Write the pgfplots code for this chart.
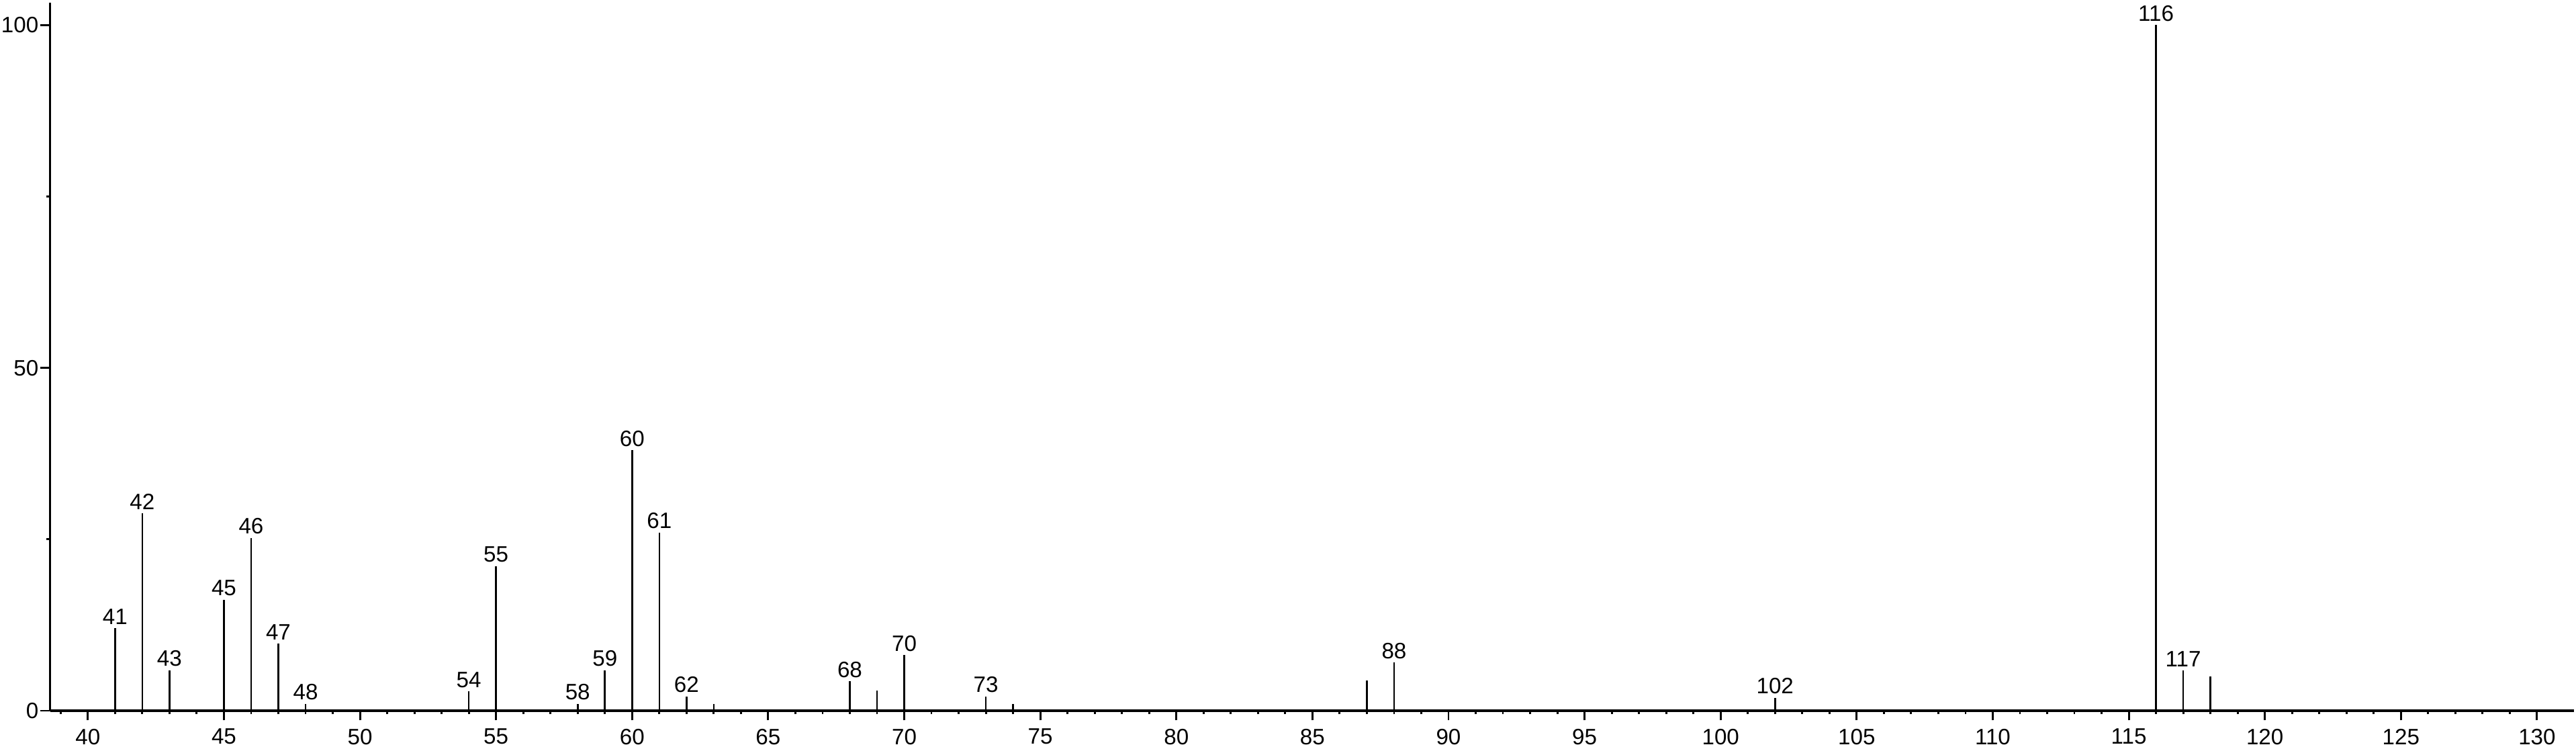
\documentclass[border=0pt]{standalone}
\usepackage{fontspec}
\setmainfont{Liberation Sans}
\usepackage{pgfplots}
\pgfplotsset{compat=1.18}
\begin{document}
\begin{tikzpicture}
\begin{axis}[
  scale only axis, width=940.75pt, height=263.9pt,
  xmin=38.61, xmax=131.36, ymin=0, ymax=103.3,
  axis x line=bottom, axis y line=left,
  axis line style={-},
  x axis line style={line width=1pt},
  y axis line style={line width=0.75pt},
  xtick distance=5, minor x tick num=4,
  ytick={0,50,100}, minor ytick={25,75},
  tick align=outside, major tick length=3.6pt, minor tick length=1.3pt,
  every tick/.style={black, line width=0.72pt},
  tick label style={font=\fontsize{8.3}{9}\selectfont},
  /pgf/number format/assume math mode=true,
  yticklabel style={inner sep=0.5pt},
  xticklabel style={inner sep=0.8pt, yshift=-2.2pt},
  clip=false,
]
\addplot[ycomb, black, line width=0.65pt, mark=none] table {
x y
41 12.0
42 28.8
43 5.9
45 16.2
46 25.2
47 9.8
48 1.0
54 2.8
55 21.1
58 1.0
59 5.9
60 38.0
61 26.0
62 2.1
63 1.0
68 4.3
69 2.9
70 8.1
73 2.1
74 1.0
87 4.4
88 7.0
102 1.9
116 100
117 5.9
118 5.0
};
\addplot[draw=none, mark=none, nodes near coords, point meta=explicit symbolic,
  nodes near coords style={font=\fontsize{8.3}{9}\selectfont, anchor=south, inner sep=1.2pt}]
  table[meta=label] {
x y label
41 12.0 41
42 28.8 42
43 5.9 43
45 16.2 45
46 25.2 46
47 9.8 47
48 1.0 48
54 2.8 54
55 21.1 55
58 1.0 58
59 5.9 59
60 38.0 60
61 26.0 61
62 2.1 62
68 4.3 68
70 8.1 70
73 2.1 73
88 7.0 88
102 1.9 102
116 100 116
117 5.9 117
};
\end{axis}
\path (current axis.south west) ++(-17.5pt,-14.25pt) coordinate (bl);
\path (current axis.north east) ++(0.75pt,0.9pt) coordinate (tr);
\path (bl) rectangle (tr);
\end{tikzpicture}
\end{document}
